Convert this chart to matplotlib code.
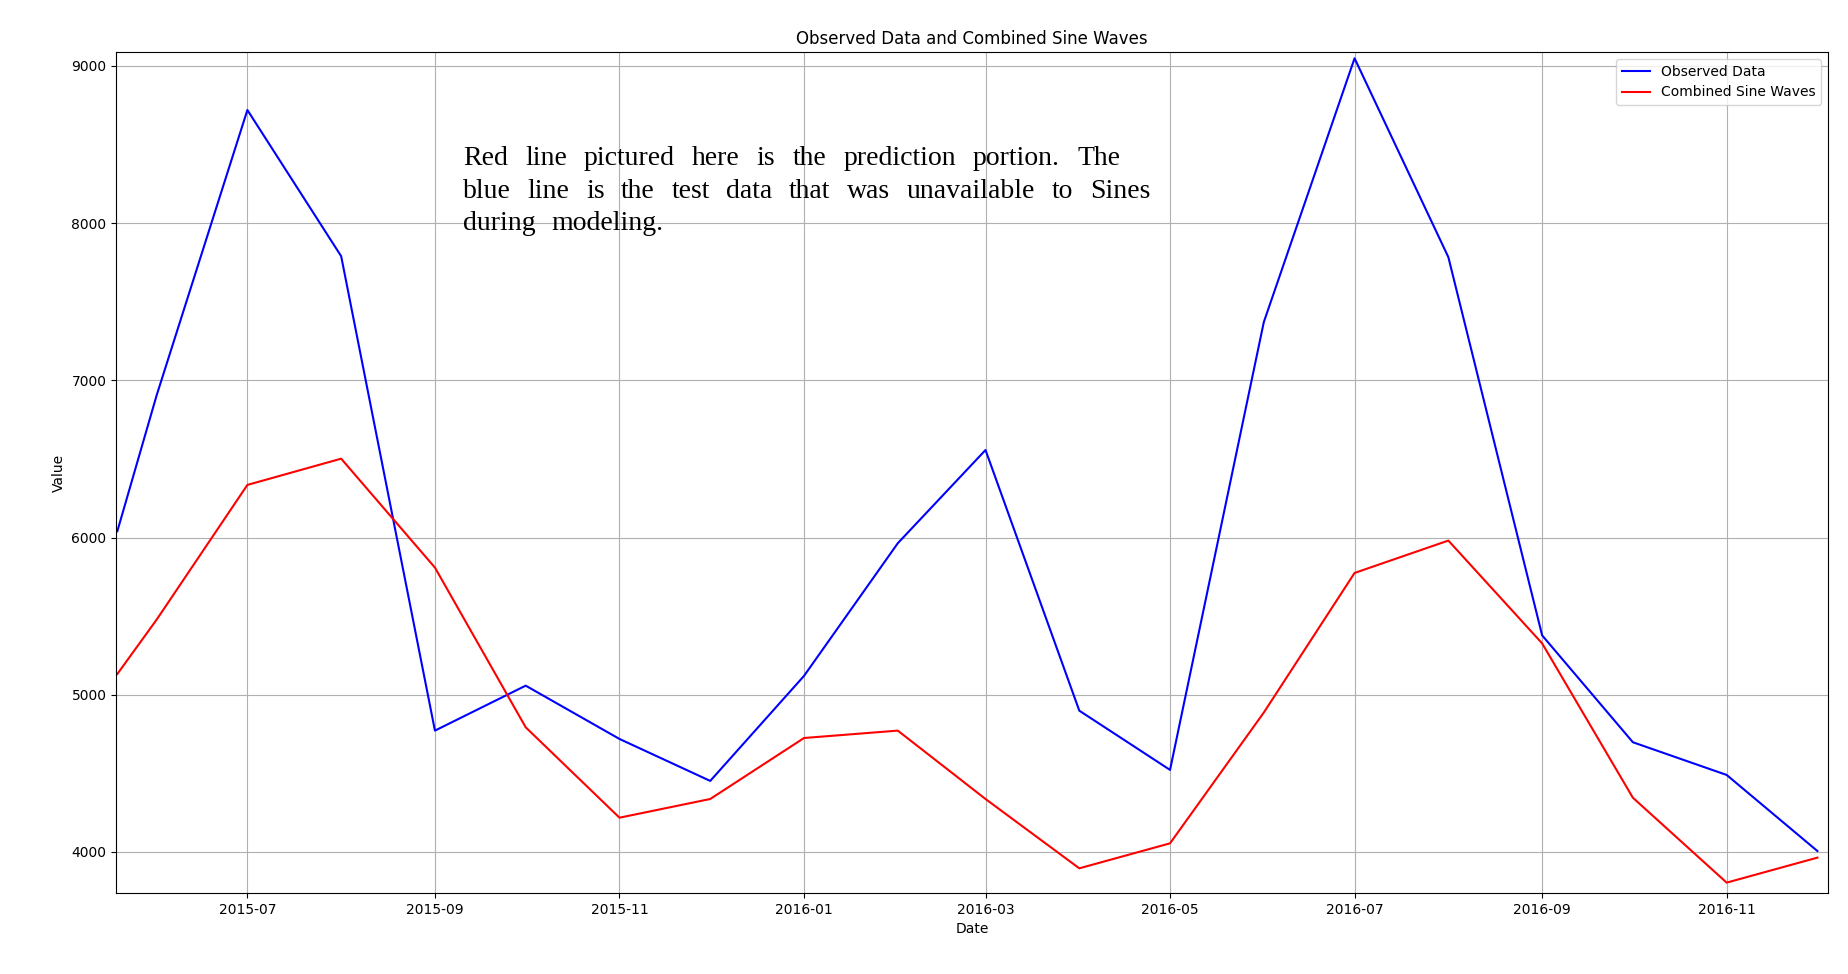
import numpy as np
import pandas as pd
import matplotlib
matplotlib.use("Agg")
import matplotlib.pyplot as plt
import matplotlib.dates as mdates


# ============================================================
# Data
# ============================================================
dates = pd.to_datetime([
    "2015-05-19", "2015-06-01", "2015-07-01", "2015-08-01", "2015-09-01",
    "2015-10-01", "2015-11-01", "2015-12-01", "2016-01-01", "2016-02-01",
    "2016-03-01", "2016-04-01", "2016-05-01", "2016-06-01", "2016-07-01",
    "2016-08-01", "2016-09-01", "2016-10-01", "2016-11-01", "2016-12-01",
])

observed = [6040, 6905, 8720, 7790, 4772, 5058, 4719, 4452, 5120, 5964,
            6557, 4899, 4522, 7371, 9049, 7784, 5378, 4698, 4490, 4006]

combined = [5132, 5478, 6335, 6502, 5809, 4793, 4218, 4337, 4725, 4772,
            4337, 3896, 4055, 4887, 5775, 5981, 5327, 4345, 3805, 3964]

note_lines = [
    "Red line pictured here is the prediction portion. The",
    "blue line is the test data that was unavailable to Sines",
    "during modeling.",
]
# left / right edge and baseline of every note line, in image pixels from the top
note_boxes = [(463, 1120, 165), (463, 1150, 197.5), (463, 663, 230)]


# ============================================================
# Helpers
# ============================================================
def draw_justified(fig, text, x0, x1, y_top, **kw):
    W, H = fig.bbox.width, fig.bbox.height
    renderer = fig.canvas.get_renderer()
    words = text.split()
    items = []
    for w in words:
        t = fig.text(0, 0, w, va="baseline", ha="left", **kw)
        items.append((t, t.get_window_extent(renderer).width))
    total = sum(wd for _, wd in items)
    gap = (x1 - x0 - total) / max(len(items) - 1, 1)
    x = x0
    for t, wd in items:
        t.set_position((x / W, 1 - y_top / H))
        x += wd + gap


# ============================================================
# Plot
# ============================================================
fig = plt.figure(figsize=(18.48, 9.74), dpi=100)
ax = fig.add_axes([116.3 / 1848, 81 / 974, (1828 - 116.3) / 1848, (893 - 52) / 974])

ax.plot(dates, observed, color="blue", label="Observed Data")
ax.plot(dates, combined, color="red", label="Combined Sine Waves")

ax.set_xlim(pd.Timestamp("2015-05-18 16:00"), pd.Timestamp("2016-12-04 12:00"))
ax.set_ylim(3739, 9089)
ax.xaxis.set_major_locator(mdates.MonthLocator(bymonth=[1, 3, 5, 7, 9, 11]))
ax.xaxis.set_major_formatter(mdates.DateFormatter("%Y-%m"))
ax.set_yticks(np.arange(4000, 9001, 1000))

ax.set_title("Observed Data and Combined Sine Waves", fontsize=12)
ax.set_xlabel("Date")
ax.set_ylabel("Value")
ax.grid(True)
ax.legend(loc="upper right")

for line, (x0, x1, yb) in zip(note_lines, note_boxes):
    draw_justified(fig, line, x0, x1, yb, family="Liberation Serif", fontsize=20)

plt.savefig("out.png", dpi=100)
plt.close()
